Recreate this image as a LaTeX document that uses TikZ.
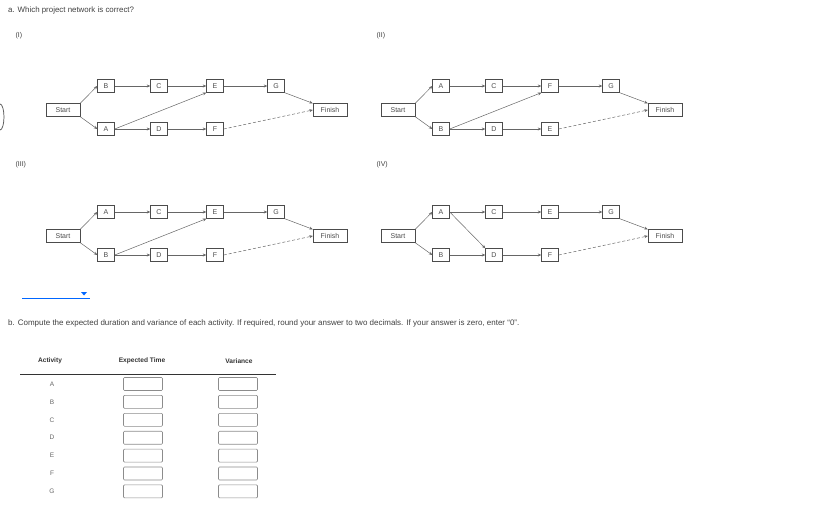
\documentclass[tikz,border=0pt]{standalone}
\usepackage{fontspec}
\setmainfont{Liberation Sans}
\usetikzlibrary{arrows.meta}
\begin{document}
\begin{tikzpicture}[x=1pt,y=-1pt,
  box/.style={draw=black!70,fill=white,minimum width=17pt,minimum height=13pt,inner sep=0pt,font=\fontsize{7}{8}\selectfont,text=black!70},
  wbox/.style={box,minimum width=34pt},
  ar/.style={draw=black!60,line width=0.5pt,-{Stealth[length=3.5pt,width=3pt]}},
  dar/.style={ar,densely dashed},
  lab/.style={font=\fontsize{7}{8}\selectfont,text=black!75,anchor=west},
  hd/.style={font=\bfseries\fontsize{6.6}{7}\selectfont,text=black!80},
  ib/.style={draw=black!45,rounded corners=1pt,line width=0.6pt,minimum width=39pt,minimum height=13pt,inner sep=0pt}]
\useasboundingbox (0,0) rectangle (818,518);
\node[lab,inner sep=0,font=\fontsize{7.9}{8}\selectfont] (qa) at (8,10) {a. Which project network is correct?};
\node[lab] (l1) at (12,36) {(I)};
\node[lab] (l2) at (373,36) {(II)};
\node[lab] (l3) at (12,165) {(III)};
\node[lab] (l4) at (373,165) {(IV)};
\draw[black!70,line width=0.7pt] (0,130) arc (90:-90:4 and 13);
\newcommand{\netw}[9]{%
 \begin{scope}[shift={(#1,#2)}]
 \node[wbox] (#3s) at (0,0) {Start};
 \node[box] (#3a) at (43,-24) {#4};
 \node[box] (#3b) at (96,-24) {#5};
 \node[box] (#3c) at (152,-24) {#6};
 \node[box] (#3g) at (213,-24) {G};
 \node[box] (#3d) at (43,19) {#7};
 \node[box] (#3e) at (96,19) {#8};
 \node[box] (#3f) at (152,19) {#9};
 \node[wbox] (#3n) at (267,0) {Finish};
 \draw[ar] (#3s.north east) -- (#3a.west);
 \draw[ar] (#3s.south east) -- (#3d.west);
 \draw[ar] (#3a) -- (#3b); \draw[ar] (#3b) -- (#3c); \draw[ar] (#3c) -- (#3g);
 \draw[ar] (#3d) -- (#3e); \draw[ar] (#3e) -- (#3f);
 \draw[ar] (#3g.south east) -- (#3n.north west);
 \draw[dar] (#3f.east) -- (#3n.west);
 \end{scope}}
\netw{63}{110}{p}{B}{C}{E}{A}{D}{F}
\draw[ar] (pd.east) -- (pc.south west);
\netw{398}{110}{q}{A}{C}{F}{B}{D}{E}
\draw[ar] (qd.east) -- (qc.south west);
\netw{63}{236}{r}{A}{C}{E}{B}{D}{F}
\draw[ar] (rd.east) -- (rc.south west);
\netw{398}{236}{s}{A}{C}{E}{B}{D}{F}
\draw[ar] (sa.east) -- (se.north west);
\coordinate (dd1) at (22,298); \coordinate (dd2) at (90,298);
\draw[blue!60!cyan,line width=0.8pt] (dd1) -- (dd2);
\fill[blue!60!cyan] (81,292) -- (87,292) -- (84,295.5) -- cycle;
\node[lab,inner sep=0,font=\fontsize{8}{9}\selectfont] (qb) at (8,323) {b. Compute the expected duration and variance of each activity. If required, round your answer to two decimals. If your answer is zero, enter ``0''.};
\node[hd] (h1) at (50,361) {Activity};
\node[hd] (h2) at (142,361) {Expected Time};
\node[hd] (h3) at (239,361) {Variance};
\draw[black!80,line width=0.7pt] (20,374) -- (276,374);
\foreach \l [count=\i from 0] in {A,B,C,D,E,F,G}{
  \node[font=\fontsize{6.5}{7}\selectfont,text=black!60] (r\l) at (52,384+17.9*\i) {\l};
  \node[ib] (x\l) at (143,384+17.9*\i) {};
  \node[ib] (v\l) at (238,384+17.9*\i) {};
}
\end{tikzpicture}
\end{document}
